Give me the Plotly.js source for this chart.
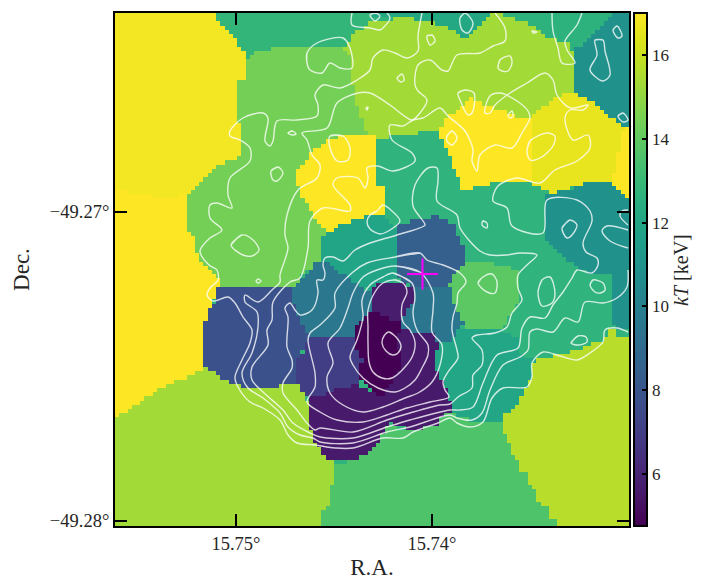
<!DOCTYPE html>
<html>
<head>
<meta charset="utf-8">
<script src="https://cdn.plot.ly/plotly-3.0.1.min.js"></script>
<style>html,body{margin:0;padding:0;background:#fff}</style>
</head>
<body>
<div id="chart" style="width:706px;height:580px"></div>
<script>
// Image frame of the map: (col,row) in image units, tied to the sky by a reference point and scale
const RA_REF = 15.75, RA_REF_COL = 236, RA_PER_COL = 1 / 19600;
const DEC_REF = -49.27, DEC_REF_ROW = 212, DEC_PER_ROW = 1 / 30900;
const COL_RANGE = [115, 629], ROW_RANGE = [13, 526];
const CELL = 4.21;

const raTickVals = [15.75, 15.74];
const raTickText = ['15.75°', '15.74°'];
const decTickVals = [-49.27, -49.28];
const decTickText = ['−49.27°', '−49.28°'];
const kTTicks = [6, 8, 10, 12, 14, 16];
const KT_MIN = 4.76, KT_MAX = 17;
const peak = [422.5, 274];

// Temperature of each Voronoi bin (keV)
const binKT = [
  16.8, 17, 12.8, 12.1, 15.3, 14.4, 17, 12.7, 11.9, 9.6, 8.4, 9.5, 5.7, 4.76, 5.6, 7.0, 7.8,
  15.3, 13.6, 15.7, 13.9, 12.0, 12.7, 10.9, 12.6, 10.9, 17, 16.6, 17
];
// Outline of each bin, in image units
const binOutlines = [
  [[115,13],[213,13],[227,30],[247,51],[247,67],[243,80],[239,82],[239,123],[243,141],[243,156],[227,161],[210,171],[197,185],[188,195],[160,198],[137,193],[115,190]],
  [[115,190],[137,193],[160,198],[188,195],[188,231],[193,235],[198,255],[207,268],[217,278],[222,287],[218,292],[210,308],[205,320],[205,367],[185,377],[163,387],[143,400],[120,415],[115,418]],
  [[213,13],[375,13],[370,21],[353,35],[343,48],[340,46],[280,46],[260,51],[248,55],[227,31]],
  [[370,13],[497,13],[488,16],[475,28],[465,38],[450,28],[438,25],[425,21],[408,18],[370,18]],
  [[353,35],[370,21],[408,18],[425,21],[438,25],[450,28],[465,38],[475,28],[488,16],[495,13],[505,16],[517,20],[537,28],[548,38],[567,43],[573,51],[573,91],[565,93],[552,101],[537,111],[530,118],[517,118],[503,111],[485,105],[470,98],[455,111],[447,118],[438,131],[433,133],[425,131],[403,136],[378,138],[367,135],[362,123],[358,108],[353,88],[350,58],[343,48]],
  [[243,156],[227,161],[210,171],[197,185],[188,195],[188,231],[193,235],[198,255],[207,268],[217,278],[222,287],[293,287],[307,270],[320,263],[320,235],[327,233],[313,215],[303,198],[295,181],[295,171],[303,163],[313,151],[330,138],[367,135],[362,123],[358,108],[353,88],[350,58],[343,48],[340,46],[280,46],[260,51],[248,55],[247,67],[243,80],[239,82],[239,123],[243,141]],
  [[295,171],[303,163],[313,151],[330,138],[367,135],[378,137],[378,185],[383,186],[383,216],[367,216],[340,225],[327,233],[313,215],[303,198],[295,181]],
  [[378,140],[403,136],[425,131],[433,133],[438,133],[447,151],[455,171],[463,190],[458,208],[455,215],[455,225],[438,216],[417,222],[395,226],[383,216],[383,186],[378,185]],
  [[320,235],[327,233],[340,225],[367,216],[383,216],[395,226],[395,280],[372,292],[353,282],[340,272],[327,262],[320,262]],
  [[293,287],[303,278],[315,263],[327,262],[340,272],[353,282],[370,292],[370,313],[353,330],[353,338],[308,338],[302,323],[293,305]],
  [[395,226],[417,219],[438,216],[455,225],[458,237],[463,245],[466,255],[463,270],[457,272],[447,285],[433,287],[413,287],[395,275]],
  [[413,287],[450,287],[455,308],[463,322],[458,330],[452,342],[438,342],[433,333],[400,330],[400,322],[403,313],[412,303],[412,290]],
  [[383,280],[403,282],[412,288],[412,303],[405,312],[400,320],[392,320],[370,313],[370,292]],
  [[370,313],[378,313],[392,320],[400,322],[400,330],[395,340],[400,353],[400,370],[392,380],[383,392],[382,397],[370,390],[367,387],[358,373],[358,360],[355,352],[353,330]],
  [[400,330],[433,333],[438,342],[435,365],[445,385],[450,400],[450,413],[438,417],[437,425],[413,430],[403,427],[392,423],[387,423],[383,433],[375,447],[357,460],[328,460],[315,443],[310,425],[307,425],[307,402],[310,397],[330,393],[340,387],[358,385],[370,390],[382,397],[392,380],[400,370],[400,353],[395,340]],
  [[308,338],[353,338],[358,350],[362,360],[358,373],[358,385],[340,387],[330,393],[310,397],[303,392],[298,383],[298,360],[303,353],[303,350]],
  [[218,287],[293,287],[293,303],[302,323],[308,338],[303,350],[298,360],[298,385],[283,385],[257,388],[238,385],[227,380],[210,370],[205,367],[205,320],[210,308],[215,300]],
  [[115,418],[120,415],[143,400],[163,387],[185,377],[205,367],[227,380],[238,385],[257,388],[283,385],[298,385],[303,392],[307,402],[307,425],[310,425],[315,443],[328,460],[335,462],[332,463],[332,483],[328,487],[328,507],[323,508],[323,526],[115,526]],
  [[332,463],[357,460],[375,447],[383,433],[387,423],[392,427],[413,430],[437,425],[438,417],[450,413],[463,418],[492,423],[501,423],[501,430],[505,433],[505,440],[510,442],[510,452],[518,462],[518,470],[527,473],[530,488],[538,493],[538,503],[547,507],[547,517],[555,520],[556,526],[323,526],[323,508],[328,507],[328,487],[332,483]],
  [[501,418],[510,410],[518,402],[523,393],[527,387],[531,378],[531,367],[535,360],[560,355],[577,350],[587,345],[594,342],[605,338],[610,330],[617,330],[618,338],[629,338],[629,526],[556,526],[555,520],[547,517],[547,507],[538,503],[538,493],[530,488],[527,473],[518,470],[518,462],[510,452],[510,442],[505,440],[505,433],[501,430]],
  [[447,285],[450,280],[457,272],[463,263],[490,262],[517,270],[518,303],[508,317],[502,330],[463,330],[463,322],[455,308],[450,287]],
  [[438,342],[452,342],[458,330],[502,330],[518,338],[518,352],[530,360],[535,360],[531,367],[531,378],[527,387],[523,393],[518,402],[510,410],[501,418],[501,423],[492,423],[463,418],[450,413],[450,400],[445,385],[435,365]],
  [[463,190],[480,185],[503,181],[530,181],[543,191],[543,235],[565,258],[575,265],[590,275],[610,272],[610,315],[617,330],[610,330],[605,338],[594,342],[587,345],[577,350],[560,355],[535,360],[530,360],[518,352],[518,338],[502,330],[508,317],[518,303],[517,270],[490,262],[463,263],[466,255],[463,245],[458,237],[455,225],[455,215],[458,208]],
  [[573,51],[573,91],[590,101],[600,108],[608,116],[618,123],[629,127],[629,13],[612,15],[600,25],[580,45]],
  [[505,13],[612,13],[600,25],[573,51],[567,43],[548,38],[537,28],[517,20]],
  [[543,193],[570,190],[575,186],[593,181],[612,181],[618,189],[624,195],[629,198],[629,330],[617,330],[610,315],[610,272],[590,275],[575,265],[565,258],[543,235]],
  [[438,131],[447,118],[455,111],[470,98],[485,105],[503,111],[517,118],[530,118],[530,181],[503,181],[480,185],[463,190],[455,171],[447,151]],
  [[530,118],[537,111],[552,101],[565,93],[573,91],[590,101],[600,108],[608,116],[618,123],[623,128],[617,155],[615,168],[612,181],[593,181],[573,186],[552,193],[543,191],[530,181]],
  [[623,128],[629,127],[629,198],[624,195],[618,189],[612,181],[615,168],[617,155]]
];

// X-ray surface-brightness contours, open lines, in image units
const openContours = [
  [[422,13],[418,36],[418,51],[407,58],[395,53],[383,50],[373,58],[370,70],[357,80],[340,88],[323,85],[315,95],[318,105],[317,116],[297,120],[277,121],[273,141],[270,146],[265,141],[268,118],[263,113],[243,118],[230,131],[230,136],[240,140],[250,148],[250,161],[230,178],[228,195],[232,208],[217,203],[210,205],[210,218],[222,230],[210,238],[200,251],[209,265],[217,270],[218,280],[210,288],[207,295],[213,301],[228,297],[235,303],[243,317],[252,330],[250,343],[242,360],[235,377],[238,387],[250,402],[263,408],[280,420],[288,435],[297,443],[315,445],[335,448],[353,448],[383,438],[403,438],[413,432],[438,423],[450,418],[457,423],[470,427],[483,422],[492,398],[503,388],[527,387],[532,377],[532,363],[543,352],[560,356],[577,360],[590,353],[603,342],[605,330],[617,328],[628,332]],
  [[495,13],[505,28],[505,41],[493,46],[480,53],[457,55],[448,71],[442,70],[430,60],[418,65],[415,85],[418,91],[427,100],[420,113],[412,120],[403,115],[390,105],[370,93],[358,93],[337,103],[327,128],[302,133],[307,140],[312,155],[320,165],[317,178],[298,190],[287,215],[285,235],[288,248],[280,275],[280,282],[272,290],[258,302],[245,295],[245,302],[257,312],[258,327],[252,353],[242,373],[248,388],[263,398],[280,413],[288,427],[300,435],[313,438],[320,442],[353,443],[387,432],[410,427],[450,415],[457,418],[472,420],[482,413],[490,390],[503,365],[520,357],[528,350],[530,332],[537,329],[553,332],[565,318],[578,322],[585,302],[603,303],[617,298],[627,287],[628,270]],
  [[310,433],[293,423],[283,410],[263,392],[252,380],[252,367],[268,345],[267,330],[272,320],[273,302],[290,282],[300,278],[308,248],[310,221],[323,208],[350,211],[350,205],[333,185],[337,178],[358,178],[365,188],[368,178],[367,168],[378,166],[393,171],[415,161],[412,153],[392,140],[390,125],[403,126],[413,120],[423,118],[440,108],[448,116],[465,131],[473,150],[472,161],[477,171],[480,155],[495,145],[512,148],[523,131],[530,118],[528,111],[517,101],[500,93],[490,96],[485,113],[490,113],[495,105],[510,93],[527,83],[545,73],[553,80],[557,95],[570,108],[588,105],[583,110],[570,110],[565,118],[573,140],[588,135],[590,148],[577,161],[555,170],[540,183],[517,178],[498,186],[493,201],[507,208],[512,226],[543,233],[547,200],[577,200],[590,211],[592,221],[583,243],[586,252],[597,258],[598,265],[592,273],[577,270],[572,278],[563,292],[553,305],[545,318],[530,317],[522,328],[518,348],[497,355],[483,383],[473,407],[460,410],[450,410],[410,420],[387,427],[353,438],[320,437],[310,433]],
  [[315,430],[307,423],[297,410],[283,393],[283,383],[292,368],[292,360],[287,347],[288,317],[285,308],[290,303],[295,310],[300,315],[312,310],[318,293],[317,280],[323,280],[325,273],[323,265],[325,258],[333,257],[343,261],[355,250],[370,243],[397,235],[425,225],[423,221],[413,206],[415,185],[428,168],[437,168],[438,181],[437,201],[457,215],[460,228],[480,251],[490,255],[507,255],[520,253],[537,255],[527,265],[518,275],[518,288],[522,300],[512,313],[507,327],[495,333],[477,335],[472,338],[482,350],[482,365],[473,375],[472,388],[458,397],[450,404],[440,405],[410,413],[387,420],[353,432],[320,428],[315,430]],
  [[552,13],[553,31],[558,48],[562,63],[575,63],[567,50],[565,41],[577,25],[582,13]],
  [[352,13],[352,25],[370,28],[380,30],[383,28],[390,18],[387,13]],
  [[628,248],[610,241],[602,231],[607,226],[628,230]],
  [[628,210],[622,211],[620,216],[628,225]]
];
// Closed contours, in image units
const closedContours = [
  [[389,332],[396,337],[401,346],[398,353],[393,355],[386,351],[382,343],[384,336]],
  [[395,280],[403,283],[407,292],[402,305],[403,322],[410,330],[415,342],[413,355],[405,367],[392,378],[382,378],[373,372],[369,362],[368,343],[368,327],[368,310],[375,292],[383,283]],
  [[393,273],[412,283],[415,297],[413,313],[417,330],[428,345],[428,355],[422,368],[415,380],[405,388],[395,392],[378,388],[363,378],[353,365],[350,357],[357,340],[363,317],[362,300],[370,285],[383,277]],
  [[395,266],[420,272],[433,293],[433,310],[432,332],[442,345],[440,365],[432,382],[418,393],[405,398],[383,407],[363,412],[343,405],[330,393],[327,377],[333,363],[328,343],[340,328],[348,308],[353,293],[363,277],[377,270]],
  [[395,257],[420,253],[427,260],[443,265],[460,273],[466,282],[458,293],[457,303],[453,317],[452,330],[457,350],[458,358],[448,372],[443,382],[445,390],[449,397],[430,402],[407,408],[387,415],[363,422],[337,420],[320,412],[307,402],[315,387],[315,373],[308,340],[310,333],[320,325],[335,308],[335,293],[353,272],[367,263]],
  [[458,93],[465,90],[474,93],[472,113],[468,115],[460,100]],
  [[460,18],[465,13],[473,23],[468,33],[462,30]],
  [[370,15],[375,13],[380,16],[375,21]],
  [[427,36],[432,35],[435,41],[430,45]],
  [[498,68],[500,60],[510,56],[512,63],[508,71],[502,71]],
  [[397,78],[402,74],[404,80],[401,82]],
  [[532,31],[537,32],[533,33]],
  [[508,115],[512,111],[513,116],[510,118]],
  [[447,136],[452,131],[457,138],[452,145],[447,141]],
  [[527,151],[530,141],[547,133],[555,136],[553,146],[540,158],[530,160]],
  [[595,40],[603,40],[605,51],[610,75],[603,81],[590,70],[597,55]],
  [[613,30],[617,26],[622,36],[618,38]],
  [[618,116],[623,113],[628,120],[623,122]],
  [[483,221],[487,223],[487,228],[482,225]],
  [[562,228],[570,220],[577,225],[572,235],[567,238]],
  [[370,215],[377,211],[383,205],[392,211],[400,221],[390,230],[380,234],[370,229],[367,222]],
  [[307,63],[307,53],[317,43],[343,38],[350,48],[352,68],[340,68],[330,63],[322,73],[310,70]],
  [[288,133],[292,131],[296,134],[292,135]],
  [[271,171],[278,167],[283,173],[277,181],[273,180]],
  [[231,245],[242,235],[253,240],[259,250],[252,256],[243,255]],
  [[330,136],[343,136],[350,148],[348,160],[337,161],[330,148]],
  [[366,108],[368,107],[367,110]],
  [[256,281],[258,279],[261,281],[258,283]],
  [[478,283],[483,277],[492,274],[497,282],[495,293],[487,292]],
  [[538,292],[542,280],[550,277],[555,293],[552,303],[542,306]],
  [[590,285],[593,280],[603,283],[605,290],[600,293],[595,292]],
  [[571,343],[578,336],[586,337],[587,342],[578,345]]
];

const toRA = c => RA_REF - (c - RA_REF_COL) * RA_PER_COL;
const toDec = r => DEC_REF - (r - DEC_REF_ROW) * DEC_PER_ROW;

function inside(p, poly) {
  let hit = false;
  for (let i = 0, j = poly.length - 1; i < poly.length; j = i++) {
    const [xi, yi] = poly[i], [xj, yj] = poly[j];
    if ((yi > p[1]) !== (yj > p[1]) && p[0] < (xj - xi) * (p[1] - yi) / (yj - yi) + xi) hit = !hit;
  }
  return hit;
}

// Rasterise the bins onto the map's pixel grid
const cols = [], rows = [];
for (let c = COL_RANGE[0] + CELL / 2; c < COL_RANGE[1]; c += CELL) cols.push(c);
for (let r = ROW_RANGE[0] + CELL / 2; r < ROW_RANGE[1]; r += CELL) rows.push(r);
const z = rows.map(r => cols.map(c => {
  let v = 12.7;
  binOutlines.forEach((poly, i) => { if (inside([c, r], poly)) v = binKT[i]; });
  return v;
}));

const traces = [{
  type: 'heatmap', x: cols.map(toRA), y: rows.map(toDec), z: z,
  zmin: KT_MIN, zmax: KT_MAX, colorscale: 'Viridis', zsmooth: false, hoverinfo: 'skip',
  colorbar: {
    x: 1.0097, xanchor: 'left', xpad: 0, y: 0.5, yanchor: 'middle', ypad: 0, len: 1, lenmode: 'fraction',
    thickness: 13, thicknessmode: 'pixels', outlinewidth: 2, outlinecolor: '#000',
    tickmode: 'array', tickvals: kTTicks, ticktext: kTTicks.map(String), ticks: 'inside', ticklen: 6, tickwidth: 2, tickcolor: '#000',
    tickfont: {family: 'Liberation Serif', size: 17, color: '#262626'}
  }
}];
const addLine = pts => traces.push({
  type: 'scatter', mode: 'lines', x: pts.map(p => toRA(p[0])), y: pts.map(p => toDec(p[1])),
  line: {color: 'rgba(255,255,255,0.78)', width: 1.4, shape: 'spline', smoothing: 0.9}, hoverinfo: 'skip', showlegend: false
});
openContours.forEach(addLine);
closedContours.forEach(pts => addLine(pts.concat([pts[0], pts[1]])));
traces.push({
  type: 'scatter', mode: 'markers', x: [toRA(peak[0])], y: [toDec(peak[1])],
  marker: {symbol: 'cross-thin', size: 22, line: {color: '#ff00ff', width: 2}}, hoverinfo: 'skip', showlegend: false
});

const tickFont = {family: 'Liberation Serif', size: 18.5, color: '#262626'};
const titleFont = {family: 'Liberation Serif', size: 23, color: '#262626'};
const axisBase = {
  showgrid: false, zeroline: false, showline: true, linewidth: 2, linecolor: '#000', mirror: 'allticks',
  ticks: 'inside', ticklen: 12, tickwidth: 2, tickcolor: '#000', tickmode: 'array', tickfont: tickFont
};
const layout = {
  width: 706, height: 580, autosize: false, showlegend: false,
  paper_bgcolor: '#fff', plot_bgcolor: '#fff',
  margin: {l: 115, r: 77, t: 13, b: 54},
  xaxis: Object.assign({}, axisBase, {
    range: [toRA(COL_RANGE[0]), toRA(COL_RANGE[1])], tickvals: raTickVals, ticktext: raTickText,
    title: {text: 'R.A.', font: titleFont, standoff: 11}
  }),
  yaxis: Object.assign({}, axisBase, {
    range: [toDec(ROW_RANGE[1]), toDec(ROW_RANGE[0])], tickvals: decTickVals, ticktext: decTickText,
    title: {text: 'Dec.', font: titleFont, standoff: 14}
  }),
  annotations: [{
    xref: 'paper', yref: 'paper', x: 1.1, y: 0.5, xanchor: 'center', yanchor: 'middle', textangle: -90, showarrow: false,
    text: '<i>kT</i> [keV]', font: {family: 'Liberation Serif', size: 20, color: '#262626'}
  }]
};
Plotly.newPlot('chart', traces, layout, {staticPlot: true, displayModeBar: false});
</script>
</body>
</html>
